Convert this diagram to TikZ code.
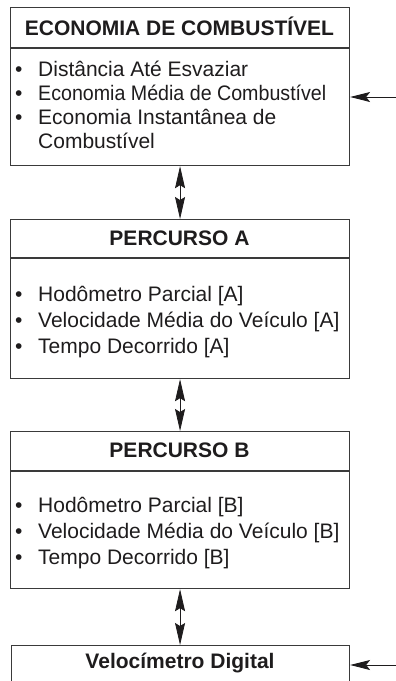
\documentclass[tikz,border=0pt]{standalone}
\usepackage{fontspec}
\setmainfont{Liberation Sans}
\usetikzlibrary{arrows.meta}
\definecolor{ink}{HTML}{1E1C1D}
\definecolor{frame}{HTML}{3A3A3A}
\begin{document}
\begin{tikzpicture}[x=1pt,y=-1pt,
  box/.style={draw=frame, line width=1.1pt, anchor=north west, inner sep=0pt, minimum width=339pt},
  head/.style={font=\bfseries\fontsize{21}{24}\selectfont, text=ink, anchor=base, inner sep=0pt},
  body/.style={font=\fontsize{21}{24}\selectfont, text=ink, anchor=base west, inner sep=0pt, align=left},
  bodyb/.style={body, font=\fontsize{21}{26}\selectfont},
  dbl/.style={{Stealth[length=22pt,width=10pt,inset=3pt]}-{Stealth[length=22pt,width=10pt,inset=3pt]}, line width=0.8pt, draw=ink},
  arr/.style={-{Stealth[length=20pt,width=10pt,inset=4pt]}, line width=0.9pt, draw=ink}]
\clip (0,0) rectangle (396,681);
% box 1
\node[box, minimum height=40pt] (h1) at (10,7) {};
\node[box, minimum height=117pt] (b1) at (h1.south west) {};
\node[head] (t1h) at (179.5,35) {ECONOMIA DE COMBUSTÍVEL};
\node[body] (t1b) at (15,76) {\begin{tabular}[t]{@{}p{23pt}@{}l@{}}
\textbullet & Distância Até Esvaziar\\
\textbullet & \scalebox{0.935}[1]{Economia Média de Combustível}\\
\textbullet & Economia Instantânea de\\
 & Combustível\end{tabular}};
% box 2
\node[box, minimum height=38pt] (h2) at (10,219) {};
\node[box, minimum height=120pt] (b2) at (h2.south west) {};
\node[head] (t2h) at (179.5,245) {PERCURSO A};
\node[bodyb] (t2b) at (15,301) {\begin{tabular}[t]{@{}p{23pt}@{}l@{}}
\textbullet & Hodômetro Parcial [A]\\
\textbullet & Velocidade Média do Veículo [A]\\
\textbullet & Tempo Decorrido [A]\end{tabular}};
% box 3
\node[box, minimum height=39pt] (h3) at (10,431) {};
\node[box, minimum height=117pt] (b3) at (h3.south west) {};
\node[head] (t3h) at (179.5,457) {PERCURSO B};
\node[bodyb] (t3b) at (15,512) {\begin{tabular}[t]{@{}p{23pt}@{}l@{}}
\textbullet & Hodômetro Parcial [B]\\
\textbullet & Velocidade Média do Veículo [B]\\
\textbullet & Tempo Decorrido [B]\end{tabular}};
% box 4
\node[box, minimum height=60pt, minimum width=338pt] (h4) at (11,645) {};
\node[head] (t4h) at (180,668) {Velocímetro Digital};
% connectors
\draw[dbl] (b1.south) -- (h2.north);
\draw[dbl] (b2.south) -- (h3.north);
\draw[dbl] (b3.south) -- (b3.south |- h4.north);
\coordinate (in1) at (396,97);
\coordinate (in4) at (396,665);
\draw[arr] (in1) -- (in1 -| b1.east);
\draw[arr] (in4) -- (in4 -| h4.east);
\end{tikzpicture}
\end{document}
